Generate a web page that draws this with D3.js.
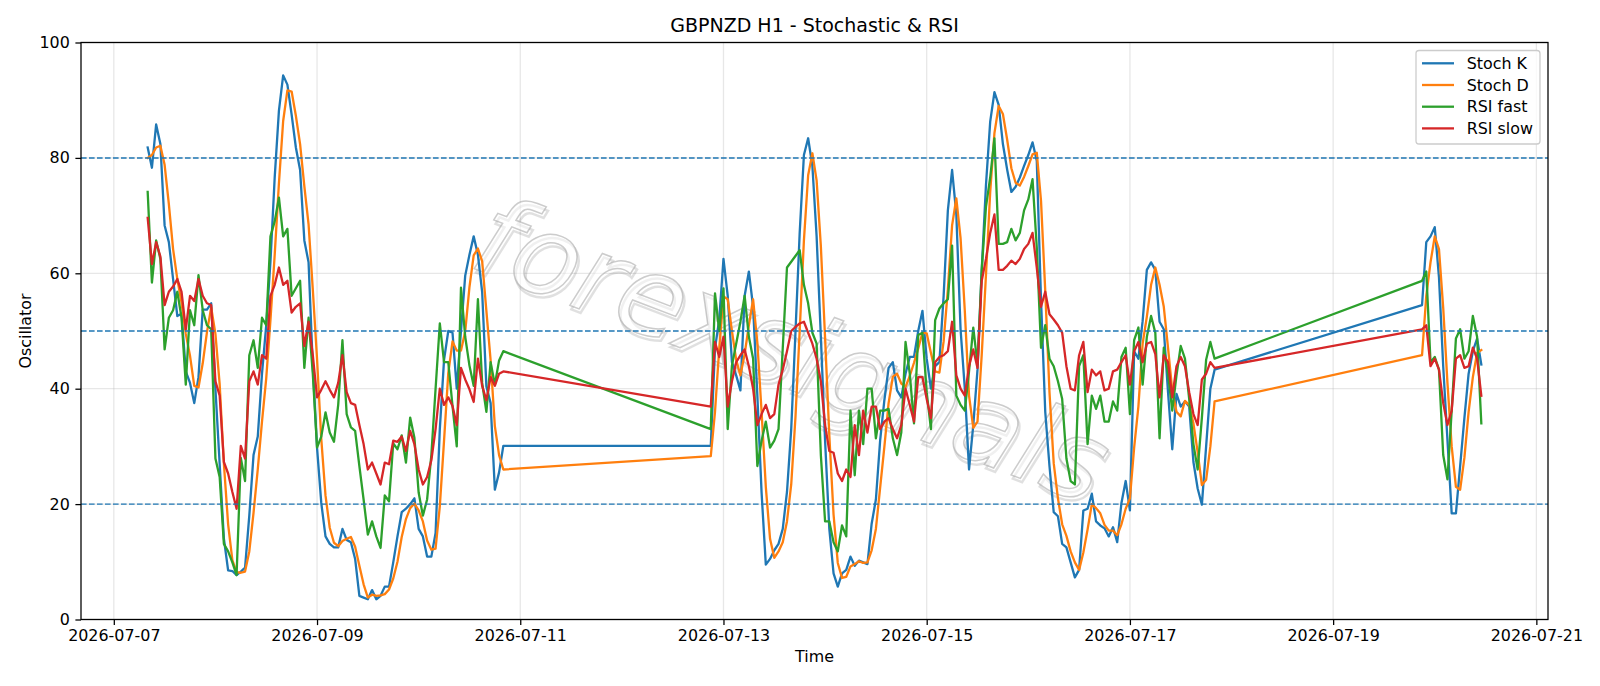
<!DOCTYPE html>
<html lang="en">
<head>
<meta charset="utf-8">
<title>GBPNZD H1 - Stochastic & RSI</title>
<script src="https://cdn.jsdelivr.net/npm/d3@7"></script>
<style>
  body { margin: 0; background: #fff; }
  svg text { font-family: "DejaVu Sans", sans-serif; }
</style>
</head>
<body>
<svg id="chart" width="1600" height="686"></svg>
<script>
// hourly bars, three trading blocks (UTC)
var segStarts = ["2026-07-07T08:00:00Z", "2026-07-12T21:00:00Z", "2026-07-19T21:00:00Z"];

var stochK = [
  [81.8, 78.3, 85.8, 82.4, 68.3, 65.4, 59.0, 52.6, 53.0, 43.0,
   41.0, 37.5, 42.0, 53.7, 53.7, 54.8, 40.0, 27.0, 14.0, 8.5,
   8.4, 7.7, 8.3, 9.0, 18.0, 28.5, 31.7, 42.6, 51.0, 62.0,
   76.6, 88.2, 94.3, 92.7, 87.5, 81.8, 77.9, 65.7, 61.9, 43.9,
   29.8, 20.2, 14.4, 13.1, 12.5, 12.5, 15.7, 13.8, 13.4, 10.5,
   4.1, 3.8, 3.5, 5.1, 3.5, 4.1, 5.7, 5.7, 9.9, 14.4,
   18.6, 19.2, 20.0, 21.0, 15.7, 14.4, 10.9, 10.9, 15.0, 33.0,
   45.0, 50.0, 49.7, 40.0, 50.0, 59.6, 63.2, 66.4, 63.2, 56.8,
   40.4, 37.5, 22.5, 25.5, 30.1],
  [30.1, 47.0, 52.0, 62.5, 56.1, 44.6, 42.3, 39.7, 56.1, 60.3,
   54.2, 38.8, 22.0, 9.5, 10.5, 12.0, 13.1, 15.7, 22.1, 33.0,
   49.7, 67.0, 80.5, 83.4, 78.6, 66.4, 49.0, 31.0, 15.7, 8.0,
   5.7, 8.0, 8.6, 10.9, 9.3, 10.2, 9.9, 9.6, 16.6, 20.8,
   31.0, 38.0, 43.6, 44.6, 39.7, 38.5, 42.6, 45.5, 45.5, 50.0,
   53.5, 45.2, 40.0, 43.9, 44.6, 56.1, 70.9, 77.9, 70.2, 50.3,
   40.0, 26.0, 33.7, 43.3, 60.6, 75.3, 86.3, 91.4, 89.2, 82.4,
   78.0, 74.1, 75.0, 76.6, 78.6, 80.5, 82.7, 79.5, 55.5, 36.0,
   26.6, 18.6, 17.9, 13.1, 12.5, 9.9, 7.3, 8.6, 18.9, 19.2,
   21.8, 17.0, 16.3, 15.8, 14.4, 16.0, 13.4, 20.2, 24.0, 18.9,
   46.5, 45.2, 51.7, 60.6, 61.9, 60.6, 51.6, 50.3, 39.4, 29.5,
   39.1, 36.9, 37.8, 36.9, 27.3, 22.7, 19.9, 30.0, 40.0, 43.3],
  [54.5, 65.4, 66.4, 68.0, 59.3, 43.9, 31.1, 18.4, 18.4, 26.6,
   34.9, 42.6, 46.5, 48.7, 44.2]
];

var stochD = [
  [80.0, 80.5, 81.8, 82.1, 78.8, 72.0, 64.2, 59.0, 54.9, 49.5,
   45.7, 40.5, 40.2, 44.4, 49.8, 54.1, 49.5, 40.8, 27.0, 16.5,
   10.3, 8.2, 8.1, 8.3, 11.8, 18.5, 26.0, 34.3, 41.8, 51.9,
   63.2, 75.6, 86.4, 91.7, 91.5, 87.3, 82.4, 75.1, 68.5, 57.2,
   45.2, 31.3, 21.5, 15.9, 13.3, 12.7, 13.6, 14.0, 14.3, 12.6,
   9.3, 6.1, 3.8, 4.3, 4.1, 4.2, 4.4, 5.2, 7.1, 10.0,
   14.3, 17.4, 19.3, 20.1, 18.9, 17.0, 13.7, 12.1, 12.3, 19.6,
   31.0, 42.7, 48.2, 46.6, 46.6, 49.9, 57.6, 63.1, 64.3, 62.1,
   53.5, 44.9, 33.5, 28.5, 26.0],
  [28.3, 36.0, 47.0, 56.0, 55.5, 50.0, 45.0, 42.3, 46.0, 51.0,
   55.5, 48.0, 36.0, 23.0, 14.0, 10.7, 11.8, 13.4, 17.0, 23.4,
   35.0, 50.0, 65.7, 77.0, 80.8, 76.1, 64.7, 48.8, 31.9, 18.2,
   9.8, 7.2, 7.4, 9.2, 9.6, 10.1, 9.8, 9.9, 12.0, 15.7,
   22.8, 29.9, 37.5, 42.1, 42.6, 40.9, 40.3, 42.2, 44.5, 47.0,
   49.7, 49.6, 46.2, 43.0, 42.8, 48.2, 57.2, 68.3, 73.0, 66.1,
   53.5, 38.8, 33.2, 34.3, 45.9, 59.7, 74.1, 84.3, 89.0, 87.6,
   83.2, 78.2, 75.7, 75.2, 76.7, 78.6, 80.6, 80.9, 72.6, 57.0,
   39.4, 27.1, 21.0, 16.5, 14.5, 11.8, 9.9, 8.6, 11.6, 15.6,
   20.0, 19.3, 18.4, 16.4, 15.4, 15.4, 14.6, 16.5, 19.2, 21.0,
   29.8, 36.9, 47.8, 52.5, 58.0, 61.0, 58.0, 54.2, 47.1, 39.7,
   36.0, 35.2, 37.9, 37.2, 34.0, 29.0, 23.3, 24.2, 30.0, 37.8],
  [45.8, 56.1, 61.9, 66.4, 64.2, 54.0, 41.0, 30.0, 23.0, 22.5,
   28.0, 36.0, 42.0, 46.2, 46.7]
];

var rsiFast = [
  [74.1, 58.4, 65.7, 62.5, 46.8, 52.3, 53.6, 56.8, 52.3, 40.7,
   53.6, 51.0, 59.7, 53.6, 51.0, 50.3, 27.9, 24.7, 13.1, 11.8,
   9.9, 7.7, 28.0, 24.0, 45.8, 48.4, 43.6, 52.3, 51.0, 66.4,
   69.0, 73.1, 66.4, 67.7, 56.1, 57.4, 58.7, 43.6, 52.3, 42.6,
   29.8, 31.7, 35.9, 32.4, 30.8, 37.2, 48.4, 35.6, 33.3, 32.7,
   26.6, 20.8, 14.7, 17.0, 14.4, 12.4, 21.5, 20.5, 30.5, 29.5,
   31.9, 27.2, 35.0, 31.5, 22.0, 18.0, 20.8, 28.5, 40.0, 51.3,
   44.6, 44.6, 37.0, 30.0, 57.5, 49.0, 44.0, 40.5, 55.5, 41.0,
   36.0, 44.6, 40.7, 44.9, 46.5],
  [33.0, 56.5, 50.0, 57.4, 33.0, 44.0, 47.8, 51.6, 56.1, 49.0,
   45.2, 26.6, 31.0, 34.3, 29.8, 31.0, 33.0, 47.0, 61.0, 62.0,
   63.0, 64.0, 58.0, 54.8, 49.7, 47.8, 28.5, 17.0, 17.0, 13.4,
   11.8, 16.3, 14.4, 36.2, 25.0, 36.2, 30.4, 40.0, 40.0, 31.4,
   36.2, 36.2, 36.5, 31.4, 28.5, 32.4, 48.1, 42.6, 34.0, 49.3,
   49.7, 39.4, 33.0, 51.9, 53.9, 54.8, 55.5, 64.8, 38.8, 37.2,
   36.2, 43.0, 50.6, 44.2, 60.6, 71.5, 76.6, 83.4, 65.1, 65.1,
   65.4, 67.7, 65.7, 67.0, 70.9, 72.8, 76.3, 64.5, 47.1, 51.0,
   45.2, 43.9, 41.3, 38.2, 27.9, 24.0, 23.4, 43.9, 45.8, 30.4,
   38.8, 36.5, 38.8, 34.3, 34.3, 37.8, 36.2, 45.5, 47.1, 35.6,
   48.4, 50.6, 40.7, 49.0, 52.6, 49.7, 31.4, 47.1, 42.6, 36.2,
   42.3, 47.4, 45.2, 38.2, 30.4, 26.0, 35.0, 45.0, 48.1, 45.2],
  [58.7, 60.3, 44.6, 45.5, 43.3, 28.5, 24.3, 36.2, 48.7, 50.3,
   45.2, 46.5, 52.6, 49.0, 34.0]
];

var rsiSlow = [
  [69.6, 61.6, 65.4, 62.9, 54.5, 56.8, 57.7, 59.0, 56.8, 50.3,
   56.1, 55.2, 59.0, 56.1, 54.8, 54.5, 41.3, 38.8, 27.3, 25.3,
   22.1, 19.2, 30.1, 27.9, 41.3, 43.0, 40.7, 45.8, 45.2, 56.1,
   58.0, 61.0, 58.0, 58.7, 53.2, 54.2, 54.8, 47.4, 51.6, 45.8,
   38.5, 39.8, 41.3, 39.8, 38.5, 41.0, 45.8, 39.4, 37.5, 37.2,
   33.7, 30.4, 26.0, 27.2, 25.3, 23.4, 27.2, 26.9, 31.0, 30.8,
   31.7, 29.2, 32.7, 30.4, 26.0, 23.4, 24.7, 27.6, 33.0, 40.0,
   37.2, 38.5, 37.0, 33.7, 43.6, 41.6, 39.9, 37.7, 45.2, 40.5,
   38.0, 42.0, 40.5, 42.6, 43.0],
  [36.9, 48.1, 45.5, 49.0, 36.9, 41.3, 44.6, 45.8, 46.8, 43.9,
   40.0, 33.7, 35.6, 37.2, 34.9, 35.6, 40.7, 43.3, 46.5, 50.0,
   50.7, 51.3, 51.6, 49.7, 47.8, 45.2, 41.3, 33.7, 29.2, 28.9,
   25.3, 24.0, 26.0, 24.7, 33.7, 28.5, 36.2, 32.4, 36.9, 36.9,
   33.0, 34.3, 34.9, 33.0, 31.4, 33.7, 40.0, 37.2, 34.3, 42.0,
   42.0, 38.2, 34.9, 44.6, 45.5, 45.8, 46.5, 51.6, 42.3, 40.0,
   38.8, 43.9, 46.8, 43.6, 58.7, 62.5, 67.0, 70.2, 60.6, 60.6,
   61.3, 62.2, 61.6, 62.5, 64.2, 65.1, 67.0, 61.0, 54.2, 56.8,
   52.9, 52.0, 51.0, 49.7, 43.9, 40.0, 39.7, 45.8, 48.1, 39.4,
   43.3, 42.3, 43.0, 39.7, 40.0, 43.0, 43.3, 44.6, 45.8, 40.7,
   46.5, 48.1, 44.6, 47.8, 48.1, 46.0, 38.5, 45.8, 44.6, 38.5,
   43.9, 45.5, 43.9, 39.4, 35.6, 33.7, 41.6, 42.6, 44.6, 43.6],
  [50.3, 51.0, 43.9, 45.2, 43.3, 37.5, 33.7, 36.2, 45.2, 45.8,
   43.6, 43.9, 47.1, 45.2, 38.8]
];

var seriesNames = ["Stoch K", "Stoch D", "RSI fast", "RSI slow"];
var seriesColors = ["#1f77b4", "#ff7f0e", "#2ca02c", "#d62728"];
var levels = [80, 50, 20];
var yTicks = [0, 20, 40, 60, 80, 100];
var xTicks = ["2026-07-07", "2026-07-09", "2026-07-11", "2026-07-13",
              "2026-07-15", "2026-07-17", "2026-07-19", "2026-07-21"];

var W = 1600, H = 686;
var margin = {left: 81, right: 52, top: 42.5, bottom: 66.5};
var HOUR = 3600 * 1000;
var FS = 15.9;

// flatten segments into {t, v} rows, one hour apart within each block
function toRows(segs) {
  var rows = [];
  segs.forEach(function(vals, s) {
    var t0 = new Date(segStarts[s]).getTime();
    vals.forEach(function(v, i) { rows.push({t: new Date(t0 + i * HOUR), v: v}); });
  });
  return rows;
}
var allSeries = [stochK, stochD, rsiFast, rsiSlow].map(toRows);

var tMin = d3.min(allSeries[0], d => d.t), tMax = d3.max(allSeries[0], d => d.t);
var pad = (tMax - tMin) * 0.05;

var x = d3.scaleUtc()
  .domain([new Date(+tMin - pad), new Date(+tMax + pad)])
  .range([margin.left, W - margin.right]);
var y = d3.scaleLinear()
  .domain([0, 100])
  .range([H - margin.bottom, margin.top]);

var svg = d3.select("#chart");
var x0 = margin.left, x1 = W - margin.right, y0 = H - margin.bottom, y1 = margin.top;

// grid
var grid = svg.append("g");
grid.selectAll("line.gx").data(xTicks).enter().append("line")
  .attr("x1", d => x(new Date(d + "T00:00:00Z"))).attr("x2", d => x(new Date(d + "T00:00:00Z")))
  .attr("y1", y1).attr("y2", y0)
  .attr("stroke", "#b0b0b0").attr("stroke-opacity", 0.3).attr("stroke-width", 1.27);
grid.selectAll("line.gy").data(yTicks).enter().append("line")
  .attr("x1", x0).attr("x2", x1)
  .attr("y1", d => y(d)).attr("y2", d => y(d))
  .attr("stroke", "#b0b0b0").attr("stroke-opacity", 0.3).attr("stroke-width", 1.27);

// watermark
var wm = svg.append("g")
  .attr("transform", "translate(792,350) rotate(21)");
wm.append("text")
  .attr("x", 3).attr("y", 3)
  .attr("text-anchor", "middle").attr("dominant-baseline", "central")
  .attr("font-size", 110).attr("font-style", "italic")
  .attr("fill", "none").attr("stroke", "#000").attr("stroke-opacity", 0.12).attr("stroke-width", 2.5)
  .text("forexsignals");
wm.append("text")
  .attr("text-anchor", "middle").attr("dominant-baseline", "central")
  .attr("font-size", 110).attr("font-style", "italic")
  .attr("fill", "#fff").attr("fill-opacity", 0.5)
  .attr("stroke", "#aaa").attr("stroke-opacity", 0.6).attr("stroke-width", 1.5)
  .text("forexsignals");

// series
var line = d3.line().x(d => x(d.t)).y(d => y(d.v));
svg.append("g").selectAll("path").data(allSeries).enter().append("path")
  .attr("d", line)
  .attr("fill", "none")
  .attr("stroke", (d, i) => seriesColors[i])
  .attr("stroke-width", 2.3)
  .attr("stroke-linejoin", "round")
  .attr("stroke-linecap", "square");

// reference levels
svg.append("g").selectAll("line").data(levels).enter().append("line")
  .attr("x1", x0).attr("x2", x1)
  .attr("y1", d => y(d)).attr("y2", d => y(d))
  .attr("stroke", "#1f77b4").attr("stroke-width", 1.45)
  .attr("stroke-dasharray", "5.6,2.4");

// axes
var xAxis = d3.axisBottom(x)
  .tickValues(xTicks.map(d => new Date(d + "T00:00:00Z")))
  .tickFormat(d3.utcFormat("%Y-%m-%d"))
  .tickSizeOuter(0).tickSize(5.6).tickPadding(5.1);
var yAxis = d3.axisLeft(y)
  .tickValues(yTicks)
  .tickSizeOuter(0).tickSize(5.6).tickPadding(5.6);

var gx = svg.append("g").attr("transform", "translate(0," + y0 + ")").call(xAxis);
var gy = svg.append("g").attr("transform", "translate(" + x0 + ",0)").call(yAxis);
[gx, gy].forEach(function(g) {
  g.select(".domain").remove();
  g.selectAll(".tick line").attr("stroke", "#000").attr("stroke-width", 1.27);
  g.selectAll(".tick text").attr("font-size", FS).attr("fill", "#000")
    .attr("font-family", "DejaVu Sans, sans-serif");
});

// frame
svg.append("rect")
  .attr("x", x0).attr("y", y1).attr("width", x1 - x0).attr("height", y0 - y1)
  .attr("fill", "none").attr("stroke", "#000").attr("stroke-width", 1.27);

// labels
svg.append("text").attr("x", (x0 + x1) / 2).attr("y", 32)
  .attr("text-anchor", "middle").attr("font-size", 19)
  .text("GBPNZD H1 - Stochastic & RSI");
svg.append("text").attr("x", (x0 + x1) / 2).attr("y", 662)
  .attr("text-anchor", "middle").attr("font-size", FS)
  .text("Time");
svg.append("text")
  .attr("transform", "translate(30.5," + ((y0 + y1) / 2) + ") rotate(-90)")
  .attr("text-anchor", "middle").attr("font-size", FS)
  .text("Oscillator");

// legend
var lg = svg.append("g").attr("transform", "translate(1416,50.5)");
lg.append("rect")
  .attr("width", 124).attr("height", 93.5).attr("rx", 3)
  .attr("fill", "#fff").attr("fill-opacity", 0.8)
  .attr("stroke", "#ccc").attr("stroke-width", 1.27);
var items = lg.selectAll("g.item").data(seriesNames).enter().append("g")
  .attr("transform", (d, i) => "translate(0," + (12.8 + i * 21.7) + ")");
items.append("line")
  .attr("x1", 6).attr("x2", 38)
  .attr("stroke", (d, i) => seriesColors[i]).attr("stroke-width", 2.3);
items.append("text")
  .attr("x", 50.7).attr("y", 5.6)
  .attr("font-size", FS)
  .text(d => d);
</script>
</body>
</html>
